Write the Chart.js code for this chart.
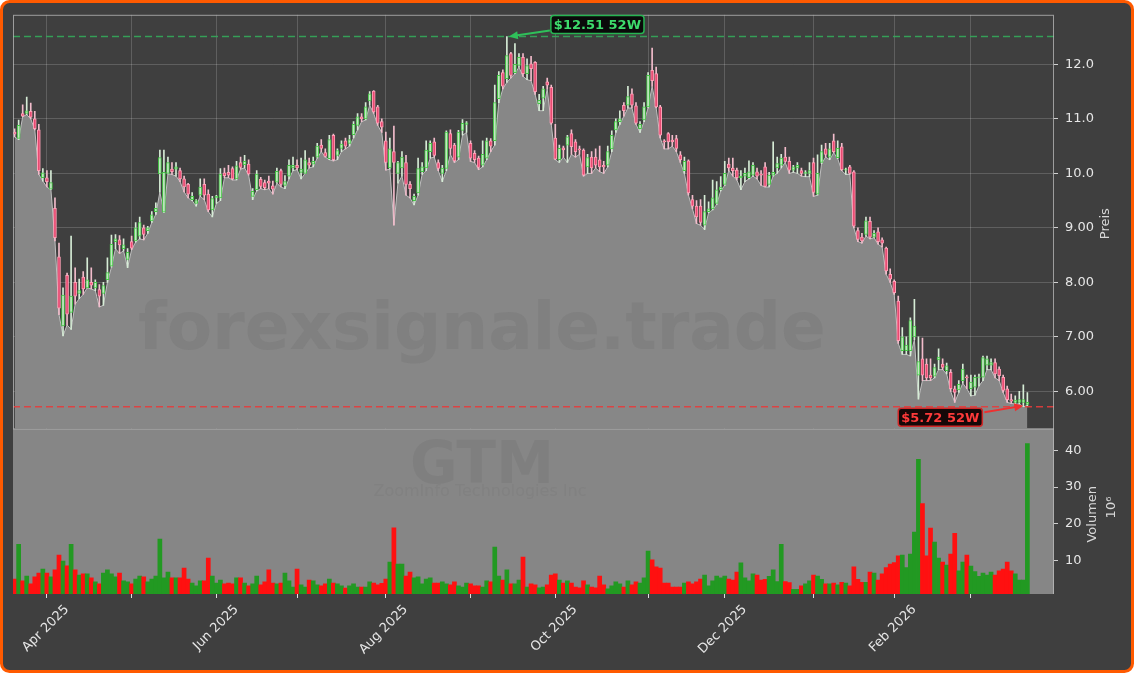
<!DOCTYPE html>
<html>
<head>
<meta charset="utf-8">
<script src="https://cdn.jsdelivr.net/npm/chart.js@4.4.1/dist/chart.umd.min.js"></script>
<style>
  html, body { margin: 0; padding: 0; background: #ffffff; }
  #wrap { width: 1134px; height: 673px; }
</style>
</head>
<body>
<div id="wrap"><canvas id="c" width="1134" height="673"></canvas></div>
<script>
// GTM daily candles, 2025-03-20 .. 2026-03-20 (one entry per trading day)
const opens = [
  10.76,10.64,11.10,11.10,11.14,11.00,10.80,9.92,9.92,9.71,
  9.36,8.47,7.20,8.13,7.45,8.00,7.80,8.10,7.90,8.00,
  7.90,7.87,7.80,8.05,8.30,8.75,8.78,8.62,8.42,8.75,
  8.76,8.85,9.00,8.95,9.13,9.30,9.99,9.29,10.00,10.08,
  10.08,10.05,9.90,9.80,9.52,9.45,9.60,9.80,9.62,9.33,
  9.55,9.55,10.01,10.02,10.09,9.90,10.20,10.16,10.17,9.58,
  9.70,9.89,9.83,9.86,9.77,9.84,10.05,9.78,9.95,10.10,
  10.15,10.02,10.00,10.20,10.17,10.30,10.52,10.38,10.27,10.70,
  10.33,10.46,10.60,10.55,10.71,10.88,11.04,11.00,11.33,11.51,
  11.22,10.95,10.60,10.10,10.40,10.00,10.10,10.20,9.80,9.50,
  9.64,10.03,10.10,10.40,10.58,10.20,10.00,10.09,10.73,10.52,
  10.30,10.79,10.90,10.55,10.37,10.28,10.15,10.28,10.60,10.60,
  11.37,11.85,11.74,12.20,11.85,11.98,12.13,11.83,12.01,12.04,
  11.28,11.38,11.68,11.58,10.65,10.25,10.47,10.52,10.73,10.58,
  10.45,10.43,10.12,10.30,10.30,10.25,10.15,10.15,10.45,10.80,
  10.95,11.25,11.25,11.46,11.24,10.82,10.98,11.22,11.89,11.83,
  11.22,10.60,10.73,10.61,10.64,10.34,10.05,10.23,9.52,9.40,
  9.40,9.05,9.30,9.35,9.45,9.70,9.80,10.17,10.10,10.06,
  9.92,9.95,9.92,9.97,10.03,9.99,10.12,9.80,9.97,10.10,
  10.15,10.30,10.22,10.06,10.10,10.05,10.00,10.00,10.20,9.62,
  10.20,10.45,10.30,10.60,10.29,10.49,10.06,10.12,10.03,8.95,
  8.83,8.88,9.12,8.83,8.93,8.78,8.63,8.15,8.02,7.66,
  6.75,6.75,6.75,7.00,6.30,6.60,6.50,6.30,6.28,6.58,
  6.50,6.38,6.35,6.05,6.03,6.20,6.26,6.05,6.08,6.25,
  6.26,6.48,6.48,6.53,6.41,6.26,6.05,5.85,5.80,5.80,
  5.80,5.76
];
const highs = [
  10.82,10.98,11.26,11.40,11.29,11.14,10.90,10.09,10.05,10.05,
  9.55,8.72,7.90,8.17,8.85,8.27,8.06,8.20,8.45,8.27,
  8.05,7.96,8.00,8.45,8.87,8.88,8.86,8.80,8.62,8.85,
  9.10,9.20,9.05,9.03,9.30,9.46,10.43,10.43,10.30,10.20,
  10.20,10.10,9.95,9.82,9.65,9.52,9.90,9.90,9.70,9.58,
  9.60,10.09,10.10,10.15,10.12,10.22,10.30,10.33,10.25,9.72,
  10.05,9.93,9.88,9.95,9.86,10.10,10.08,9.96,10.25,10.30,
  10.25,10.28,10.42,10.28,10.30,10.55,10.62,10.45,10.70,10.72,
  10.45,10.60,10.65,10.70,10.95,11.10,11.10,11.30,11.50,11.52,
  11.25,11.00,10.76,10.65,10.87,10.22,10.40,10.33,9.85,9.62,
  10.28,10.20,10.60,10.60,10.65,10.25,10.15,10.78,10.80,10.55,
  10.79,10.99,10.95,10.60,10.42,10.32,10.60,10.65,10.64,11.62,
  11.87,11.90,12.51,12.22,12.38,12.20,12.20,12.10,12.15,12.05,
  11.45,11.60,11.75,11.62,10.90,10.52,10.50,10.70,10.80,10.62,
  10.50,10.45,10.35,10.40,10.45,10.50,10.22,10.50,10.78,11.00,
  11.15,11.30,11.60,11.55,11.30,10.95,11.30,11.85,12.30,11.95,
  11.25,10.62,10.75,10.70,10.70,10.40,10.30,10.25,9.60,9.50,
  9.52,9.60,9.48,9.88,9.85,9.94,10.22,10.28,10.28,10.10,
  10.05,10.10,10.23,10.20,10.10,10.05,10.20,10.02,10.58,10.30,
  10.35,10.48,10.30,10.15,10.20,10.10,10.05,10.20,10.28,10.34,
  10.52,10.55,10.55,10.72,10.60,10.55,10.10,10.15,10.05,9.00,
  8.90,9.20,9.20,8.95,9.00,8.82,8.65,8.25,8.05,7.75,
  7.17,7.00,7.35,7.69,7.00,6.98,6.60,6.60,6.50,6.78,
  6.60,6.52,6.40,6.10,6.20,6.50,6.30,6.30,6.30,6.32,
  6.65,6.65,6.60,6.60,6.45,6.30,6.10,5.95,5.92,6.00,
  6.12,5.98
];
const lows = [
  10.67,10.62,11.04,11.08,11.00,10.80,9.98,9.86,9.75,9.70,
  8.76,7.41,7.02,7.22,7.14,7.60,7.70,7.78,7.90,7.88,
  7.85,7.55,7.58,8.00,8.28,8.62,8.53,8.58,8.27,8.60,
  8.74,8.80,8.78,8.90,9.10,9.25,9.66,9.28,9.99,9.98,
  9.95,9.85,9.66,9.55,9.50,9.40,9.58,9.52,9.30,9.20,
  9.45,9.50,9.92,9.92,9.88,9.88,10.08,10.10,9.97,9.52,
  9.68,9.72,9.70,9.72,9.62,9.82,9.75,9.72,9.90,10.05,
  10.07,9.90,10.00,10.10,10.12,10.28,10.40,10.30,10.25,10.23,
  10.25,10.40,10.45,10.50,10.65,10.80,10.95,10.98,11.25,11.10,
  10.88,10.75,10.06,10.08,9.05,9.82,9.95,9.60,9.55,9.42,
  9.60,9.98,10.05,10.28,10.30,10.05,9.85,10.05,10.35,10.20,
  10.25,10.70,10.75,10.22,10.20,10.07,10.12,10.25,10.40,10.52,
  11.30,11.55,11.67,11.75,11.83,11.95,11.78,11.72,11.70,11.45,
  11.15,11.15,11.55,10.90,10.25,10.20,10.30,10.20,10.35,10.30,
  10.35,9.95,10.00,10.00,10.10,10.03,10.00,10.12,10.40,10.75,
  10.90,11.05,11.20,11.20,10.90,10.75,10.95,11.20,11.60,11.20,
  10.65,10.45,10.45,10.50,10.40,10.20,10.00,9.60,9.35,9.08,
  9.05,8.97,9.28,9.33,9.43,9.68,9.78,10.05,9.95,9.88,
  9.70,9.85,9.90,9.95,9.90,9.78,9.75,9.75,9.95,10.00,
  10.10,10.20,10.00,10.02,10.00,9.95,9.94,9.94,9.58,9.60,
  10.18,10.30,10.25,10.38,10.27,10.05,9.98,9.98,9.00,8.75,
  8.72,8.85,8.80,8.82,8.70,8.65,8.15,8.00,7.78,6.88,
  6.68,6.68,6.65,6.95,5.86,6.20,6.20,6.20,6.25,6.40,
  6.40,6.32,6.00,5.80,5.98,6.15,6.05,5.92,5.93,6.10,
  6.20,6.40,6.40,6.25,6.20,5.98,5.80,5.78,5.77,5.77,
  5.72,5.74
];
const closes = [
  10.72,10.88,11.05,11.15,11.03,10.82,10.05,10.01,9.85,9.83,
  8.82,7.53,7.77,7.42,7.75,7.75,7.85,7.88,8.05,7.95,
  8.00,7.75,7.94,8.18,8.70,8.80,8.69,8.69,8.55,8.63,
  9.00,9.10,8.88,9.00,9.24,9.36,10.29,10.02,10.20,10.03,
  10.12,9.90,9.75,9.62,9.58,9.50,9.75,9.60,9.33,9.54,
  9.58,9.99,9.96,9.97,9.90,10.14,10.11,10.22,9.99,9.67,
  9.99,9.76,9.74,9.82,9.71,10.04,9.80,9.85,10.15,10.15,
  10.10,10.08,10.25,10.15,10.22,10.50,10.46,10.31,10.62,10.25,
  10.42,10.54,10.50,10.62,10.90,11.04,11.00,11.22,11.46,11.13,
  10.92,10.85,10.20,10.45,10.20,10.20,10.30,9.80,9.72,9.58,
  10.09,10.12,10.43,10.55,10.33,10.09,10.10,10.76,10.46,10.23,
  10.76,10.92,10.93,10.28,10.25,10.11,10.35,10.60,10.50,11.30,
  11.80,11.60,12.16,11.80,12.00,12.13,11.83,11.98,11.92,11.50,
  11.34,11.55,11.62,10.92,10.26,10.46,10.43,10.67,10.49,10.40,
  10.43,9.97,10.29,10.10,10.15,10.12,10.12,10.40,10.70,10.95,
  11.00,11.15,11.41,11.25,10.92,10.90,11.22,11.80,11.70,11.22,
  10.70,10.58,10.58,10.58,10.46,10.25,10.22,9.64,9.40,9.20,
  9.10,9.30,9.35,9.55,9.70,9.75,10.00,10.10,10.05,9.92,
  9.95,10.00,10.03,10.15,9.95,9.97,9.76,9.97,10.02,10.18,
  10.28,10.22,10.06,10.12,10.15,10.00,10.02,10.05,9.65,10.00,
  10.40,10.35,10.45,10.40,10.46,10.07,10.08,10.00,9.03,8.79,
  8.76,9.13,8.83,8.90,8.75,8.72,8.21,8.06,7.81,6.93,
  7.00,6.85,7.30,7.20,6.55,6.30,6.25,6.25,6.44,6.63,
  6.44,6.47,6.05,5.98,6.13,6.41,6.25,6.17,6.26,6.27,
  6.62,6.60,6.53,6.32,6.29,6.02,5.85,5.82,5.84,5.85,
  5.85,5.80
];
// volume in millions of shares
const volumes = [
  4.9,14.4,4.4,5.7,3.6,5.5,6.5,7.6,6.5,5.5,
  7.4,11.4,9.8,8.5,14.4,7.4,6.0,6.3,6.3,5.2,
  4.1,3.6,6.5,7.4,6.3,5.5,6.5,4.4,4.1,3.6,
  4.9,5.7,5.5,4.1,4.9,5.7,15.8,5.2,6.8,5.2,
  5.2,5.2,7.9,4.9,3.8,3.0,4.4,4.4,10.6,5.7,
  3.8,4.6,3.6,3.8,3.6,5.2,5.2,3.8,3.0,3.6,
  5.7,3.3,4.1,7.4,3.8,3.6,3.8,6.5,4.4,2.7,
  7.6,3.3,2.7,4.6,4.4,3.3,3.0,3.6,4.9,3.8,
  3.6,3.0,2.4,3.0,3.6,2.7,2.7,2.7,4.1,3.8,
  3.3,3.7,4.9,9.5,18.9,9.0,9.0,5.7,6.8,5.2,
  5.5,3.6,4.9,5.2,3.8,3.8,4.1,3.6,3.3,4.1,
  3.0,2.7,3.8,3.6,3.0,3.0,2.7,4.4,4.1,13.6,
  5.7,4.6,7.4,3.6,3.6,4.6,10.9,2.7,3.6,3.3,
  2.5,2.7,3.3,6.0,6.3,4.6,3.8,4.4,3.8,2.7,
  2.5,4.4,3.3,2.7,2.5,5.7,3.3,2.2,3.0,4.1,
  3.6,2.7,4.4,3.3,4.1,3.8,5.2,12.5,10.1,8.2,
  7.9,3.8,3.8,2.7,2.7,2.7,3.8,4.1,3.6,4.1,
  4.9,6.0,3.0,4.4,5.7,5.2,5.7,4.9,4.6,6.8,
  9.3,5.2,4.4,6.3,6.0,4.6,4.8,5.6,7.4,4.2,
  14.4,4.2,3.9,2.1,2.1,3.0,3.6,4.4,6.0,5.7,
  4.8,3.6,3.6,3.8,3.3,4.0,3.8,3.0,8.2,4.8,
  4.0,4.0,6.8,6.5,4.6,6.3,8.0,9.0,9.4,11.2,
  11.4,8.0,11.7,17.7,37.6,25.5,11.2,18.8,15.0,10.6,
  9.5,8.7,11.7,17.4,7.1,9.5,11.4,8.4,6.9,5.6,
  6.5,6.0,6.8,6.0,7.1,7.6,9.5,7.1,6.3,4.6,
  4.6,41.9
];

const firstDay = '2025-03-20';
const holidays = ['2025-04-18','2025-05-26','2025-06-19','2025-07-04','2025-09-01',
                  '2025-11-27','2025-12-25','2026-01-01','2026-01-19','2026-02-16'];
const monthNames = ['Jan','Feb','Mar','Apr','May','Jun','Jul','Aug','Sep','Oct','Nov','Dec'];
const priceTicks = [6, 7, 8, 9, 10, 11, 12];
const volumeTicks = [10, 20, 30, 40];

const FONT = 'DejaVu Sans';
const W = 1134, H = 673;

function tradingDays(start, n) {
  const out = [];
  const d = new Date(start + 'T00:00:00Z');
  while (out.length < n) {
    const iso = d.toISOString().slice(0, 10);
    const wd = d.getUTCDay();
    if (wd !== 0 && wd !== 6 && !holidays.includes(iso)) out.push(new Date(d));
    d.setUTCDate(d.getUTCDate() + 1);
  }
  return out;
}

const dates = tradingDays(firstDay, closes.length);
const monthStarts = [];
for (let i = 1; i < dates.length; i++) {
  if (dates[i].getUTCMonth() !== dates[i - 1].getUTCMonth()) monthStarts.push(i);
}

const idx = closes.map((_, i) => i);
const isUp = idx.map(i => closes[i] >= opens[i]);

const hi52 = Math.max(...highs), lo52 = Math.min(...lows);
const hi52Idx = highs.indexOf(hi52), lo52Idx = lows.indexOf(lo52);

function arrow(ctx, x1, y1, x2, y2, color) {
  const a = Math.atan2(y2 - y1, x2 - x1);
  ctx.save();
  ctx.strokeStyle = color;
  ctx.fillStyle = color;
  ctx.lineWidth = 2;
  ctx.beginPath();
  ctx.moveTo(x1, y1);
  ctx.lineTo(x2 - 7 * Math.cos(a), y2 - 7 * Math.sin(a));
  ctx.stroke();
  ctx.beginPath();
  ctx.moveTo(x2, y2);
  ctx.lineTo(x2 - 9 * Math.cos(a) + 4 * Math.sin(a), y2 - 9 * Math.sin(a) - 4 * Math.cos(a));
  ctx.lineTo(x2 - 9 * Math.cos(a) - 4 * Math.sin(a), y2 - 9 * Math.sin(a) + 4 * Math.cos(a));
  ctx.closePath();
  ctx.fill();
  ctx.restore();
}

function labelBox(ctx, text, x, cy, align, fg, bg, edge) {
  ctx.save();
  ctx.font = 'bold 13px ' + FONT;
  const w = ctx.measureText(text).width + 6, h = 18;
  const left = align === 'left' ? x : x - w;
  ctx.beginPath();
  ctx.roundRect(left, cy - h / 2, w, h, 3);
  ctx.fillStyle = bg;
  ctx.fill();
  ctx.lineWidth = 1.5;
  ctx.strokeStyle = edge;
  ctx.stroke();
  ctx.fillStyle = fg;
  ctx.textAlign = 'center';
  ctx.textBaseline = 'middle';
  ctx.fillText(text, left + w / 2, cy + 1);
  ctx.restore();
  return {left, right: left + w, top: cy - h / 2, bottom: cy + h / 2};
}

const panels = {
  id: 'panels',
  beforeDraw(chart) {
    const c = chart.ctx;
    c.save();
    c.fillStyle = '#ffffff';
    c.fillRect(0, 0, W, H);
    c.beginPath();
    c.roundRect(1.5, 1.5, W - 3, H - 3, 8);
    c.fillStyle = '#3f3f3f';
    c.fill();
    c.lineWidth = 3;
    c.strokeStyle = '#ff5a00';
    c.stroke();
    c.restore();
  },
  beforeDatasetsDraw(chart) {
    const {ctx, chartArea, scales} = chart;
    ctx.save();
    ctx.fillStyle = '#868686';
    ctx.fillRect(chartArea.left, scales.yv.top, chartArea.right - chartArea.left, scales.yv.bottom - scales.yv.top);
    ctx.restore();
  },
  afterDatasetsDraw(chart) {
    const {ctx, chartArea, scales} = chart;
    const x = scales.x, y = scales.y, yv = scales.yv;
    const cw = chartArea.right - chartArea.left;

    // watermarks
    ctx.save();
    ctx.textAlign = 'center';
    ctx.textBaseline = 'alphabetic';
    ctx.fillStyle = 'rgba(50,50,50,0.08)';
    ctx.font = 'bold 66px ' + FONT;
    const cx = chartArea.left + cw * 0.4505;
    ctx.fillText('forexsignale.trade', cx, y.top + (y.bottom - y.top) * 0.807);
    ctx.font = 'bold 58px ' + FONT;
    ctx.fillText('GTM', cx, yv.top + 54);
    ctx.fillStyle = 'rgba(50,50,50,0.055)';
    ctx.font = '16px ' + FONT;
    ctx.fillText('ZoomInfo Technologies Inc', cx - 2, yv.top + 67);
    ctx.restore();

    // 52-week lines
    ctx.save();
    ctx.lineWidth = 1.5;
    ctx.setLineDash([7, 4]);
    ctx.strokeStyle = 'rgba(52,170,90,0.9)';
    const yh = y.getPixelForValue(hi52);
    ctx.beginPath(); ctx.moveTo(chartArea.left, yh); ctx.lineTo(chartArea.right, yh); ctx.stroke();
    ctx.strokeStyle = 'rgba(230,60,60,0.9)';
    const yl = y.getPixelForValue(lo52);
    ctx.beginPath(); ctx.moveTo(chartArea.left, yl); ctx.lineTo(chartArea.right, yl); ctx.stroke();
    ctx.restore();

    // panel frame
    ctx.save();
    ctx.strokeStyle = 'rgba(190,190,190,0.75)';
    ctx.lineWidth = 1;
    ctx.strokeRect(chartArea.left + 0.5, y.top + 0.5, cw - 1, y.bottom - y.top);
    ctx.beginPath();
    ctx.moveTo(chartArea.right - 0.5, yv.top); ctx.lineTo(chartArea.right - 0.5, yv.bottom);
    ctx.stroke();
    ctx.restore();

    // annotations
    const px = x.getPixelForValue(hi52Idx);
    const gb = labelBox(ctx, '$' + hi52.toFixed(2) + ' 52W', px + 44, yh - 12, 'left', '#3ddc6c', '#0a0a0a', '#27b552');
    arrow(ctx, gb.left - 1, gb.bottom - 3, px + 2, yh, '#2fc05a');
    const pl = x.getPixelForValue(lo52Idx);
    const rb = labelBox(ctx, '$' + lo52.toFixed(2) + ' 52W', pl - 41, yl + 10.5, 'right', '#ff3a3a', '#160808', '#d02828');
    arrow(ctx, rb.right + 2, rb.top + 4, pl, yl - 1, '#ee3030');

    // axis titles
    ctx.save();
    ctx.fillStyle = '#d8d8d8';
    ctx.font = '13px ' + FONT;
    ctx.textAlign = 'center';
    ctx.textBaseline = 'middle';
    const rot = (t, tx, ty) => { ctx.save(); ctx.translate(tx, ty); ctx.rotate(-Math.PI / 2); ctx.fillText(t, 0, 0); ctx.restore(); };
    rot('Preis', chartArea.right + 52, (y.top + y.bottom) / 2 + 2);
    rot('Volumen', chartArea.right + 39, (yv.top + yv.bottom) / 2 + 3);
    rot('10\u2076', chartArea.right + 58, yv.top + 79);
    ctx.restore();
  }
};

const tickColor = '#e6e6e6';

new Chart(document.getElementById('c'), {
  type: 'bar',
  data: {
    datasets: [
      {
        type: 'line',
        label: 'Tief',
        data: idx.map(i => ({x: i, y: lows[i]})),
        yAxisID: 'y',
        borderColor: '#c0c0c0',
        borderWidth: 1,
        backgroundColor: '#878787',
        fill: 'start',
        pointRadius: 0,
        tension: 0,
        order: 3
      },
      {
        label: 'Docht',
        data: idx.map(i => ({x: i, y: [lows[i], highs[i]]})),
        yAxisID: 'y',
        backgroundColor: idx.map(i => isUp[i] ? '#d6ecd6' : '#f2bccb'),
        barThickness: 1,
        grouped: false,
        order: 2
      },
      {
        label: 'Kerze',
        data: idx.map(i => ({x: i, y: [opens[i], closes[i]]})),
        yAxisID: 'y',
        backgroundColor: idx.map(i => isUp[i] ? '#c4e6c4' : '#e84a72'),
        borderColor: idx.map(i => isUp[i] ? '#45c845' : '#ffa0b6'),
        borderWidth: 1,
        borderSkipped: false,
        barThickness: 3,
        minBarLength: 1,
        grouped: false,
        order: 1
      },
      {
        label: 'Volumen',
        data: idx.map(i => ({x: i, y: volumes[i]})),
        yAxisID: 'yv',
        backgroundColor: idx.map(i => isUp[i] ? '#229922' : '#ff1010'),
        borderWidth: 0,
        barPercentage: 1,
        categoryPercentage: 1,
        grouped: false,
        order: 0
      }
    ]
  },
  plugins: [panels],
  options: {
    responsive: false,
    animation: false,
    events: [],
    layout: { padding: { left: 13, top: 13, right: 0, bottom: 0 } },
    plugins: {
      legend: { display: false },
      tooltip: { enabled: false }
    },
    scales: {
      x: {
        type: 'linear',
        min: -0.4,
        max: 257.6,
        offset: false,
        afterBuildTicks: s => { s.ticks = monthStarts.map(v => ({value: v})); },
        afterFit: s => { s.height = 79; },
        ticks: {
          autoSkip: false,
          minRotation: 45,
          maxRotation: 45,
          labelOffset: 20,
          padding: 4,
          color: tickColor,
          font: { family: FONT, size: 13 },
          callback: v => {
            const d = dates[v];
            if (!d) return '';
            const m = d.getUTCMonth();
            return m % 2 === 1 ? monthNames[m] + ' ' + d.getUTCFullYear() : '';
          }
        },
        grid: { offset: false, color: 'rgba(255,255,255,0.17)', tickColor: '#e0e0e0', tickLength: 4 },
        border: { display: false }
      },
      y: {
        type: 'linear',
        position: 'right',
        stack: 'panes',
        stackWeight: 415,
        min: 5.32,
        max: 12.91,
        afterBuildTicks: s => { s.ticks = priceTicks.map(v => ({value: v})); },
        afterFit: s => { s.width = 80; },
        ticks: {
          padding: 7,
          color: tickColor,
          font: { family: FONT, size: 13 },
          callback: v => v >= 10 ? v.toFixed(1) : v.toFixed(2)
        },
        grid: { color: 'rgba(255,255,255,0.17)', tickColor: '#d0d0d0', tickLength: 4 },
        border: { display: false }
      },
      yv: {
        type: 'linear',
        position: 'right',
        stack: 'panes',
        stackWeight: 166,
        min: 0.8,
        max: 46,
        afterBuildTicks: s => { s.ticks = volumeTicks.map(v => ({value: v})); },
        afterFit: s => { s.width = 80; },
        ticks: {
          padding: 7,
          color: tickColor,
          font: { family: FONT, size: 13 },
          callback: v => String(v)
        },
        grid: { drawOnChartArea: false, tickColor: '#d0d0d0', tickLength: 4 },
        border: { display: false }
      }
    }
  }
});
</script>
</body>
</html>
